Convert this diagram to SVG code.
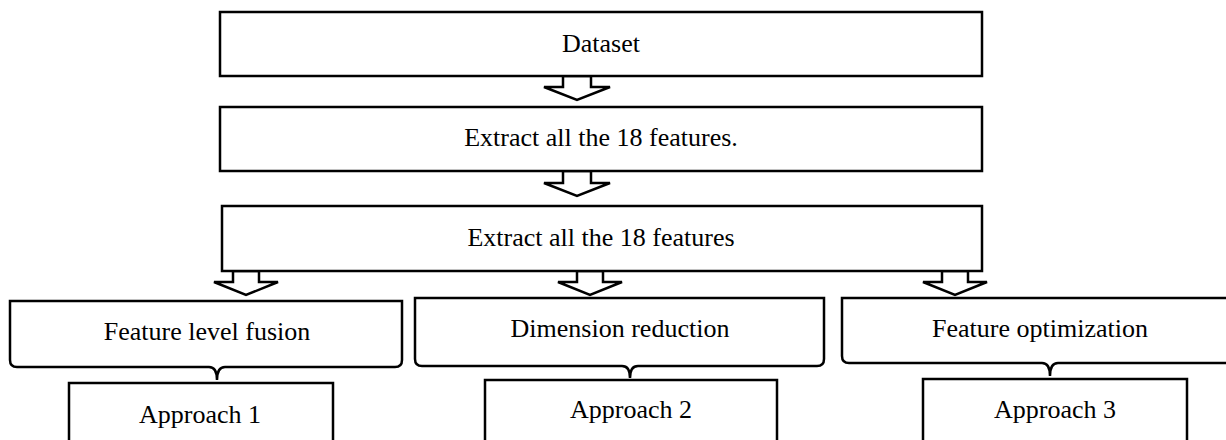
<svg xmlns="http://www.w3.org/2000/svg" width="1226" height="440" viewBox="0 0 1226 440">
<style>
.box{fill:#fff;stroke:#000;stroke-width:2.5}
.arr{fill:#fff;stroke:#000;stroke-width:2.5;stroke-linejoin:miter}
.t{font-family:"Liberation Serif","Times New Roman",serif;font-size:26px;fill:#000;text-anchor:middle}
</style>
<rect width="1226" height="440" fill="#fff"/>
<g id="connectors">
<polygon class="arr" points="563,76 591,76 591,87 610,87 577,100 544,87 563,87"/>
<polygon class="arr" points="563,171 591,171 591,183 610,183 577,196 544,183 563,183"/>
<polygon class="arr" points="233,271 259,271 259,282 278,282 246,295 214,282 233,282"/>
<polygon class="arr" points="577,271 603,271 603,282 622,282 590,295 558,282 577,282"/>
<polygon class="arr" points="942,271 968,271 968,282 987,282 955,295 923,282 942,282"/>
</g>
<g id="dataset">
<rect class="box" x="220" y="12" width="762" height="64"/>
<text class="t" x="601" y="52">Dataset</text>
</g>
<g id="extract1">
<rect class="box" x="220" y="107" width="762" height="64"/>
<text class="t" x="601" y="146">Extract all the 18 features.</text>
</g>
<g id="extract2">
<rect class="box" x="222" y="206" width="760" height="65"/>
<text class="t" x="601" y="246">Extract all the 18 features</text>
</g>
<g id="fusion">
<path class="box" d="M10,301 H402 V360 Q402,367 395,367 H225 Q217,367 217,380 Q217,367 209,367 H17 Q10,367 10,360 Z"/>
<text class="t" x="207" y="340">Feature level fusion</text>
</g>
<g id="reduction">
<path class="box" d="M415,298 H824 V359 Q824,366 817,366 H638 Q630,366 630,378 Q630,366 622,366 H422 Q415,366 415,359 Z"/>
<text class="t" x="620" y="337">Dimension reduction</text>
</g>
<g id="optimization">
<path class="box" d="M842,298 H1232 V363 H1058 Q1050,363 1050,376 Q1050,363 1042,363 H849 Q842,363 842,356 Z"/>
<text class="t" x="1040" y="337">Feature optimization</text>
</g>
<g id="approach1">
<rect class="box" x="69" y="383" width="264" height="70"/>
<text class="t" x="200" y="423">Approach 1</text>
</g>
<g id="approach2">
<rect class="box" x="485" y="380" width="292" height="70"/>
<text class="t" x="631" y="418">Approach 2</text>
</g>
<g id="approach3">
<rect class="box" x="923" y="379" width="264" height="70"/>
<text class="t" x="1055" y="418">Approach 3</text>
</g>
</svg>
